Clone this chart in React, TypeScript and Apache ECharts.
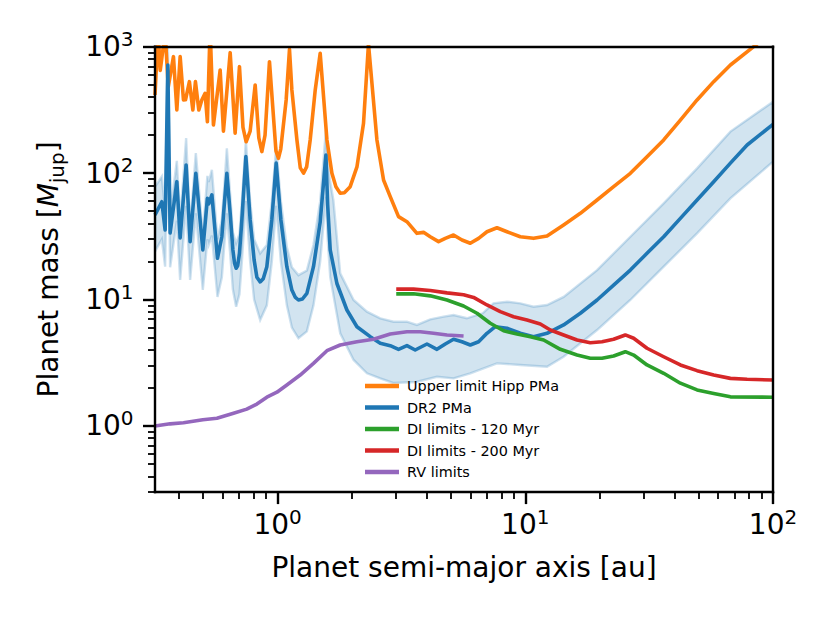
import React, { useEffect, useRef } from 'react';
import * as echarts from 'echarts';

const FONT = "'DejaVu Sans', sans-serif";

// axis limits
const X_MIN = 0.32;
const X_MAX = 100;
const Y_MIN = 0.3;
const Y_MAX = 1000;

// tick values
const xMajorTicks = [1, 10, 100];
const xMinorTicks = [0.4, 0.5, 0.6, 0.7, 0.8, 0.9, 2, 3, 4, 5, 6, 7, 8, 9, 20, 30, 40, 50, 60, 70, 80, 90];
const yMajorTicks = [1, 10, 100, 1000];
const yMinorTicks = [0.3, 0.4, 0.5, 0.6, 0.7, 0.8, 0.9, 2, 3, 4, 5, 6, 7, 8, 9, 20, 30, 40, 50, 60, 70, 80, 90, 200, 300, 400, 500, 600, 700, 800, 900];

const seriesNames = ['Upper limit Hipp PMa', 'DR2 PMa', 'DI limits - 120 Myr', 'DI limits - 200 Myr', 'RV limits'];

// Upper limit Hipp PMa
const hippA = [0.320, 0.3295, 0.336, 0.3516, 0.362, 0.3799, 0.392, 0.4043, 0.4169, 0.425, 0.4406, 0.4549, 0.466, 0.4809, 0.4945, 0.5098, 0.5208, 0.5341, 0.5509, 0.5864, 0.6046, 0.6436, 0.674, 0.7017, 0.725, 0.7467, 0.775, 0.8119, 0.84, 0.8641, 0.89, 0.9274, 0.985, 1.008, 1.03, 1.083, 1.117, 1.142, 1.197, 1.235, 1.273, 1.31, 1.354, 1.419, 1.486, 1.582, 1.657, 1.72, 1.790, 1.86, 1.964, 2.091, 2.223, 2.328, 2.518, 2.678, 2.850, 3.078, 3.328, 3.652, 3.884, 4.134, 4.466, 4.753, 5.133, 5.551, 5.997, 6.479, 7.003, 7.686, 8.435, 9.546, 10.80, 12.24, 14.28, 16.68, 19.49, 22.73, 26.55, 31.0, 36.2, 42.27, 49.37, 57.62, 67.3, 83.56, 100];
const hippM = [415, 1300, 650, 1300, 480, 834, 316, 834, 379, 380, 529, 316, 529, 316, 379, 428, 255, 1400, 240, 654, 215, 897, 207, 695, 230, 177, 215, 498, 190, 148, 200, 761, 150, 131, 155, 379, 954, 455, 183, 110, 100, 112, 183, 455, 887, 183, 99.7, 78, 69.3, 70, 78.1, 112, 248, 1050, 183, 88.3, 65.1, 45.3, 41.3, 33.4, 34.0, 31.4, 28.7, 30.5, 32.4, 29.6, 27.9, 30.5, 34.4, 37.0, 34.4, 31.4, 30.5, 31.8, 38.9, 48.1, 61.3, 78.1, 99.7, 135, 183, 263, 379, 529, 717, 1000, 1320];

// DR2 PMa (central curve)
const dr2A = [0.320, 0.341, 0.3516, 0.3605, 0.3683, 0.392, 0.4043, 0.4274, 0.4436, 0.4677, 0.4991, 0.5208, 0.527, 0.543, 0.5719, 0.5957, 0.6084, 0.624, 0.6436, 0.660, 0.67, 0.6803, 0.69, 0.7017, 0.7176, 0.7447, 0.7749, 0.804, 0.825, 0.8506, 0.875, 0.905, 0.948, 0.987, 1.031, 1.090, 1.142, 1.18, 1.214, 1.26, 1.313, 1.396, 1.486, 1.567, 1.593, 1.631, 1.736, 1.905, 2.091, 2.366, 2.597, 2.85, 3.078, 3.328, 3.594, 4.009, 4.40, 4.753, 5.133, 5.551, 5.997, 6.479, 7.003, 7.565, 8.435, 9.546, 10.80, 12.24, 14.28, 16.68, 19.49, 22.73, 26.55, 31.0, 36.2, 42.27, 49.37, 57.62, 67.3, 78.62, 100];
const dr2M = [46.7, 59.4, 35.5, 717, 33.6, 85.6, 30.7, 116, 28.7, 99.7, 24.7, 63.2, 57, 67.2, 21.2, 31.4, 54.3, 99.7, 48.1, 24.7, 19.5, 17.7, 18.5, 23.2, 42.6, 135, 42.6, 20.6, 15, 13.8, 14.6, 18.2, 42.6, 120, 42.6, 18.2, 11.9, 10.4, 9.92, 10.1, 11.2, 18.2, 41, 139, 56, 24.7, 13.4, 8.27, 6.10, 5.09, 4.51, 4.32, 4.04, 4.32, 3.99, 4.45, 4.04, 4.45, 4.85, 4.64, 4.37, 4.64, 5.41, 6.10, 5.93, 5.41, 5.09, 5.41, 6.30, 7.79, 9.92, 13.0, 17.1, 23.2, 31.4, 43.9, 61.3, 85.6, 120, 167, 243];

// DR2 PMa uncertainty band
const bandUpA = [0.320, 0.341, 0.3516, 0.3605, 0.3683, 0.392, 0.4043, 0.4274, 0.4436, 0.4677, 0.4991, 0.5208, 0.527, 0.543, 0.5719, 0.5957, 0.6084, 0.624, 0.6436, 0.660, 0.6803, 0.7017, 0.7176, 0.7447, 0.7749, 0.804, 0.8506, 0.905, 0.948, 0.987, 1.031, 1.090, 1.142, 1.214, 1.313, 1.396, 1.486, 1.567, 1.593, 1.631, 1.68, 1.79, 2.027, 2.295, 2.597, 2.94, 3.328, 3.652, 4.134, 4.68, 5.133, 5.81, 6.73, 7.44, 8.435, 9.546, 10.8, 12.24, 14.28, 19.49, 26.55, 36.2, 49.37, 67.3, 100];
const bandUpM = [78, 94, 50, 1100, 48, 125, 42, 189, 38, 144, 33, 95, 85, 106, 30, 43, 75, 157, 68, 34, 27.9, 33, 60, 180, 60, 30, 23.2, 27, 60, 160, 60, 26, 18, 15.6, 17, 27, 60, 219, 120, 85, 61, 16.1, 9.92, 8.02, 7.11, 6.68, 6.68, 6.30, 6.98, 7.32, 7.55, 7.11, 7.79, 9.34, 9.62, 9.34, 8.78, 9.06, 10.5, 17.1, 31.4, 57.7, 109, 213, 367];
const bandLoA = [0.320, 0.341, 0.3516, 0.3605, 0.3683, 0.392, 0.4043, 0.4274, 0.4436, 0.4677, 0.4991, 0.5208, 0.527, 0.543, 0.5719, 0.5957, 0.6084, 0.624, 0.6436, 0.660, 0.6803, 0.7017, 0.7176, 0.7447, 0.7749, 0.804, 0.8506, 0.905, 0.948, 0.987, 1.031, 1.090, 1.142, 1.214, 1.313, 1.396, 1.486, 1.567, 1.593, 1.631, 1.79, 2.027, 2.295, 2.597, 2.93, 3.63, 4.40, 5.133, 6.0, 7.686, 9.546, 12.24, 14.28, 19.49, 26.55, 36.2, 49.37, 67.3, 100];
const bandLoM = [24, 30, 18.2, 250, 18, 42, 14.3, 55, 14.3, 48, 11.9, 30, 27, 32, 10.5, 15, 26, 48, 23, 12, 8.78, 11, 20, 60, 20, 10, 6.89, 9, 20, 55, 20, 9, 6, 4.94, 5.6, 9, 20, 65, 30, 15.1, 5.41, 3.33, 2.61, 2.38, 2.19, 2.23, 2.45, 2.38, 2.61, 3.13, 3.04, 2.94, 3.53, 5.74, 9.92, 18.2, 33.4, 63.2, 123];

// DI limits - 120 Myr
const di120A = [3.013, 3.538, 4.134, 4.829, 5.634, 6.383, 7.221, 8.173, 9.26, 10.48, 11.86, 13.85, 16.18, 18.3, 20.41, 22.73, 25.34, 27.38, 31.0, 36.2, 42.27, 49.37, 57.62, 67.3, 100];
const di120M = [11.1, 11.1, 10.7, 9.92, 8.89, 7.79, 6.49, 5.67, 5.34, 5.09, 4.79, 4.04, 3.64, 3.43, 3.43, 3.58, 3.87, 3.64, 3.04, 2.61, 2.18, 1.93, 1.81, 1.70, 1.69];

// DI limits - 200 Myr
const di200A = [3.013, 3.538, 4.134, 4.829, 5.634, 6.184, 7.003, 7.925, 8.97, 10.16, 11.5, 12.62, 14.28, 16.18, 18.3, 20.41, 22.73, 25.34, 27.38, 31.0, 36.2, 42.27, 49.37, 57.62, 67.3, 78.62, 100];
const di200M = [12.1, 12.1, 11.8, 11.3, 10.9, 10.4, 9.06, 8.02, 7.32, 6.89, 6.41, 5.74, 5.25, 4.79, 4.56, 4.64, 4.85, 5.25, 4.94, 4.12, 3.53, 3.04, 2.74, 2.53, 2.38, 2.34, 2.31];

// RV limits
const rvA = [0.320, 0.3683, 0.4169, 0.4991, 0.569, 0.664, 0.751, 0.825, 0.905, 0.994, 1.09, 1.234, 1.396, 1.582, 1.79, 2.091, 2.44, 2.85, 3.328, 3.767, 4.26, 4.829, 5.634];
const rvM = [1.0, 1.04, 1.06, 1.12, 1.15, 1.26, 1.36, 1.49, 1.69, 1.85, 2.11, 2.53, 3.13, 3.94, 4.37, 4.64, 4.85, 5.34, 5.57, 5.57, 5.41, 5.25, 5.15];

const COLORS = ['#ff7f0e', '#1f77b4', '#2ca02c', '#d62728', '#9467bd'];

const L = (v: number) => Math.log10(v);
const pts = (a: number[], m: number[]) => a.map((x, i) => [L(x), L(m[i])]);

const tickRich = {
  b: { fontSize: 28, lineHeight: 36, fontFamily: FONT, color: '#000' },
  s: { fontSize: 20, lineHeight: 18, fontFamily: FONT, color: '#000', verticalAlign: 'top' },
};
const powLabel = (v: number) => `{b|10}{s|${Math.round(v)}}`;
const frameLine = { color: '#000', width: 2.4, cap: 'square' };

function hiddenAxis(min: number, max: number, position: string) {
  return {
    type: 'value',
    min,
    max,
    position,
    z: 10,
    splitLine: { show: false },
    axisLine: { show: false, onZero: false },
    axisTick: { show: false },
    axisLabel: { show: false },
  };
}

export default function App() {
  const ref = useRef<HTMLDivElement>(null);
  useEffect(() => {
    if (!ref.current) return;
    const chart = echarts.init(ref.current, null, { renderer: 'svg' });
    const xMin = L(X_MIN), xMax = L(X_MAX), yMin = L(Y_MIN), yMax = L(Y_MAX);
    const bandUp = pts(bandUpA, bandUpM);
    const bandLo = pts(bandLoA, bandLoM);
    const lineData = [pts(hippA, hippM), pts(dr2A, dr2M), pts(di120A, di120M), pts(di200A, di200M), pts(rvA, rvM)];

    const option: any = {
      animation: false,
      backgroundColor: '#fff',
      grid: { left: 155, top: 46.7, right: 57, bottom: 130.9, containLabel: false, outerBoundsMode: 'none', show: false },
      legend: {
        data: seriesNames,
        orient: 'vertical',
        left: 365,
        top: 378,
        padding: 0,
        itemGap: 5.5,
        itemWidth: 34,
        itemHeight: 4.5,
        icon: 'rect',
        selectedMode: false,
        textStyle: { fontFamily: FONT, fontSize: 14.4, color: '#000', lineHeight: 16, padding: [0, 0, 0, 3] },
      },
      xAxis: [
        {
          ...hiddenAxis(xMin, xMax, 'bottom'),
          axisLine: { show: true, onZero: false, lineStyle: frameLine },
          axisTick: { show: true, inside: false, length: 12, customValues: xMajorTicks.map(L), lineStyle: { color: '#000', width: 2.4 } },
          axisLabel: { show: true, customValues: xMajorTicks.map(L), margin: 14.4, formatter: powLabel, rich: tickRich, showMinLabel: true, showMaxLabel: true },
          name: 'Planet semi-major axis [au]',
          nameLocation: 'middle',
          nameGap: 58.6,
          nameMoveOverlap: false,
          nameTextStyle: { fontFamily: FONT, fontSize: 28, lineHeight: 34, color: '#000' },
        },
        {
          ...hiddenAxis(xMin, xMax, 'bottom'),
          axisTick: { show: true, inside: false, length: 7, customValues: xMinorTicks.map(L), lineStyle: { color: '#000', width: 1.8 } },
        },
        {
          ...hiddenAxis(xMin, xMax, 'top'),
          axisLine: { show: true, onZero: false, lineStyle: frameLine },
        },
      ],
      yAxis: [
        {
          ...hiddenAxis(yMin, yMax, 'left'),
          axisLine: { show: true, onZero: false, lineStyle: frameLine },
          axisTick: { show: true, inside: false, length: 12, customValues: yMajorTicks.map(L), lineStyle: { color: '#000', width: 2.4 } },
          axisLabel: { show: true, customValues: yMajorTicks.map(L), margin: 21.5, formatter: powLabel, rich: tickRich, showMinLabel: true, showMaxLabel: true },
          name: '{a|Planet mass [}{m|M}{j|jup}{a|]}',
          nameLocation: 'middle',
          nameRotate: 90,
          nameGap: 88.4,
          nameMoveOverlap: false,
          nameTextStyle: {
            fontFamily: FONT,
            fontSize: 28,
            color: '#000',
            rich: {
              a: { fontFamily: FONT, fontSize: 28, lineHeight: 36, color: '#000' },
              m: { fontFamily: FONT, fontSize: 28, lineHeight: 36, color: '#000', fontStyle: 'italic' },
              j: { fontFamily: FONT, fontSize: 20, lineHeight: 24, color: '#000', verticalAlign: 'bottom' },
            },
          },
        },
        {
          ...hiddenAxis(yMin, yMax, 'left'),
          axisTick: { show: true, inside: false, length: 7, customValues: yMinorTicks.map(L), lineStyle: { color: '#000', width: 1.8 } },
        },
        {
          ...hiddenAxis(yMin, yMax, 'right'),
          axisLine: { show: true, onZero: false, lineStyle: frameLine },
        },
      ],
      series: [
        {
          type: 'custom',
          name: 'DR2 band',
          xAxisIndex: 0,
          yAxisIndex: 0,
          silent: true,
          clip: true,
          z: 1,
          data: [[0, 0]],
          renderItem: (params: any, api: any) => {
            const points = [
              ...bandUp.map((p) => api.coord(p)),
              ...bandLo.slice().reverse().map((p) => api.coord(p)),
            ];
            const cs = params.coordSys;
            return {
              type: 'polygon',
              shape: { points },
              style: { fill: 'rgba(31,119,180,0.2)', stroke: 'rgba(31,119,180,0.22)', lineWidth: 2.4 },
              clipPath: { type: 'rect', shape: { x: cs.x, y: cs.y, width: cs.width, height: cs.height } },
            };
          },
        },
        ...seriesNames.map((name, i) => ({
          type: 'line',
          name,
          xAxisIndex: 0,
          yAxisIndex: 0,
          data: lineData[i],
          showSymbol: false,
          symbol: 'none',
          clip: true,
          z: 2 + i,
          color: COLORS[i],
          lineStyle: { color: COLORS[i], width: 3.6, join: 'round' },
        })),
      ],
    };
    chart.setOption(option);
    return () => chart.dispose();
  }, []);
  return <div ref={ref} style={{ position: 'absolute', left: 0, top: 0, width: 830, height: 623 }} />;
}
